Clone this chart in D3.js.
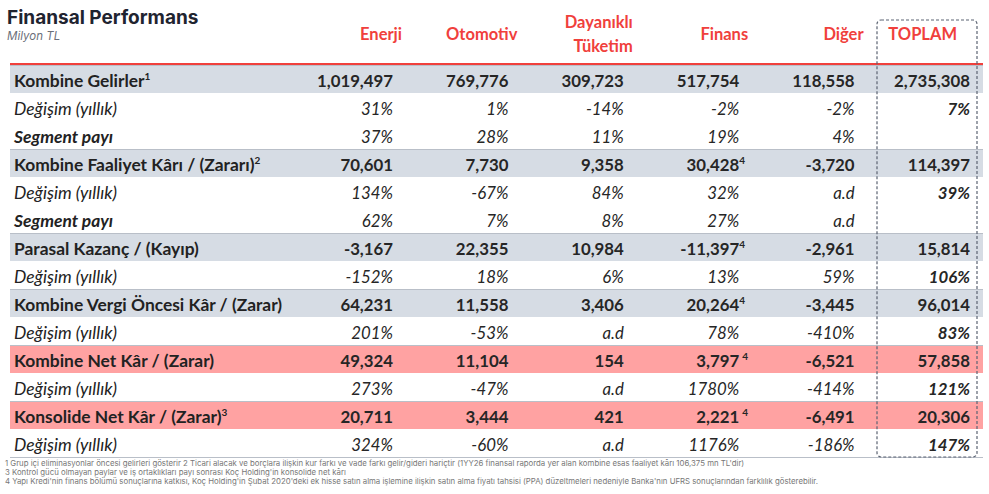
<!DOCTYPE html>
<html>
<meta charset="utf-8">
<script src="https://cdn.jsdelivr.net/npm/d3@7/dist/d3.min.js"></script>
<style>
body{margin:0;background:#fff;}
</style>
<body>
<script>
// kolonlar
var categories = ["Enerji", "Otomotiv", "Dayanıklı Tüketim", "Finans", "Diğer", "TOPLAM"];

// satir verileri (Milyon TL / %)
var gelirler        = [1019497, 769776, 309723, 517754, 118558, 2735308];
var gelirlerDeg     = [31, 1, -14, -2, -2, 7];
var gelirlerPay     = [37, 28, 11, 19, 4, null];
var faaliyet        = [70601, 7730, 9358, 30428, -3720, 114397];
var faaliyetDeg     = [134, -67, 84, 32, "a.d", 39];
var faaliyetPay     = [62, 7, 8, 27, "a.d", null];
var parasal         = [-3167, 22355, 10984, -11397, -2961, 15814];
var parasalDeg      = [-152, 18, 6, 13, 59, 106];
var vergiOncesi     = [64231, 11558, 3406, 20264, -3445, 96014];
var vergiOncesiDeg  = [201, -53, "a.d", 78, -410, 83];
var netKar          = [49324, 11104, 154, 3797, -6521, 57858];
var netKarDeg       = [273, -47, "a.d", 1780, -414, 121];
var konsolide       = [20711, 3444, 421, 2221, -6491, 20306];
var konsolideDeg    = [324, -60, "a.d", 1176, -186, 147];

var footnotes = [
	"1 Grup içi eliminasyonlar öncesi gelirleri gösterir 2 Ticari alacak ve borçlara ilişkin kur farkı ve vade farkı gelir/gideri hariçtir (1YY26 finansal raporda yer alan kombine esas faaliyet kârı 106,375  mn TL'dir)",
	"3 Kontrol gücü olmayan paylar ve iş ortaklıkları payı sonrası Koç Holding'in konsolide net kârı",
	"4 Yapı Kredi'nin finans bölümü sonuçlarına katkısı, Koç Holding'in Şubat 2020'deki ek hisse satın alma işlemine ilişkin satın alma fiyatı tahsisi (PPA) düzeltmeleri nedeniyle Banka'nın UFRS sonuçlarından farklılık gösterebilir."
];

var rows = [
	{label:"Kombine Gelirler", sup:"1", kind:"main", band:"gray", values:gelirler},
	{label:"Değişim (yıllık)", kind:"chg", values:gelirlerDeg},
	{label:"Segment payı", kind:"share", values:gelirlerPay},
	{label:"Kombine Faaliyet Kârı / (Zararı)", sup:"2", kind:"main", band:"gray", values:faaliyet, fin:"4"},
	{label:"Değişim (yıllık)", kind:"chg", values:faaliyetDeg},
	{label:"Segment payı", kind:"share", values:faaliyetPay},
	{label:"Parasal Kazanç / (Kayıp)", kind:"main", band:"gray", values:parasal, fin:"4"},
	{label:"Değişim (yıllık)", kind:"chg", values:parasalDeg},
	{label:"Kombine Vergi Öncesi Kâr / (Zarar)", kind:"main", band:"gray", values:vergiOncesi, fin:"4"},
	{label:"Değişim (yıllık)", kind:"chg", values:vergiOncesiDeg},
	{label:"Kombine Net Kâr / (Zarar)", kind:"main", band:"pink", values:netKar, fin:" 4"},
	{label:"Değişim (yıllık)", kind:"chg", values:netKarDeg},
	{label:"Konsolide Net Kâr / (Zarar)", sup:"3", kind:"main", band:"pink", values:konsolide, fin:" 4"},
	{label:"Değişim (yıllık)", kind:"chg", values:konsolideDeg}
];

var W = 989, H = 494;
var FONT = "Lato, 'Liberation Sans', sans-serif";
var bandColor = {gray:"#d6dce4", pink:"#ffa2a2"};
var fmtNum = d3.formatLocale({decimal:".", thousands:",", grouping:[3], currency:["", ""], minus:"-"}).format(",");

var svg = d3.select("body").append("svg").attr("width", W).attr("height", H);

var x = d3.scalePoint().domain(categories).range([393, 970]);
var y = d3.scaleBand().domain(d3.range(rows.length)).range([65, 457]);

// baslik
svg.append("text").attr("x", 7).attr("y", 24)
	.style("font-family", "Inter, sans-serif").style("font-weight", 700).style("font-size", "19px")
	.attr("fill", "#1f2430").text("Finansal Performans");
svg.append("text").attr("x", 7).attr("y", 40)
	.style("font-family", "Inter, sans-serif").style("font-style", "italic").style("font-size", "11.5px")
	.attr("fill", "#6b6f7a").text("Milyon TL");

// kolon basliklari
var head = svg.append("g").selectAll("text").data(categories).enter().append("text")
	.attr("text-anchor", "end")
	.attr("x", function(d, i){ return i == categories.length - 1 ? x(d) - 13 : x(d) + 9; })
	.attr("y", function(d){ return d.indexOf(" ") > 0 ? 28 : 40; })
	.style("font-family", FONT).style("font-weight", 700).style("font-size", "16.5px")
	.attr("fill", "#f0403c");
head.each(function(d){
	var parts = d.split(" ");
	var t = d3.select(this);
	parts.forEach(function(p, k){
		t.append("tspan").attr("x", t.attr("x")).attr("dy", k == 0 ? 0 : 24).text(p);
	});
});

// bantlar
var g = svg.append("g");
rows.forEach(function(r, i){
	if(r.band){
		g.append("rect").attr("x", 10).attr("y", y(i)).attr("width", 973).attr("height", y.bandwidth())
			.attr("fill", bandColor[r.band]);
		g.append("line").attr("x1", 10).attr("x2", 983).attr("y1", y(i) + 0.5).attr("y2", y(i) + 0.5)
			.attr("stroke", "#b9bfc8").attr("stroke-width", 1);
	}
});
g.append("line").attr("x1", 10).attr("x2", 983).attr("y1", 457.5).attr("y2", 457.5)
	.attr("stroke", "#b9bfc8").attr("stroke-width", 1);
g.append("line").attr("x1", 10).attr("x2", 983).attr("y1", 64).attr("y2", 64)
	.attr("stroke", "#f0403c").attr("stroke-width", 2.2);

// satirlar
var rowG = svg.append("g").selectAll("g").data(rows).enter().append("g")
	.attr("transform", function(d, i){ return "translate(0," + (y(i) + 22) + ")"; });

var lab = rowG.append("text").attr("x", 14).attr("y", 0)
	.style("font-family", FONT).style("font-size", "17.4px")
	.style("font-weight", function(d){ return d.kind == "chg" ? 400 : 700; })
	.style("font-style", function(d){ return d.kind == "main" ? "normal" : "italic"; })
	.attr("fill", "#222");
lab.append("tspan").text(function(d){ return d.label; });
lab.filter(function(d){ return d.sup; }).append("tspan")
	.attr("dy", -7).style("font-size", "10px").text(function(d){ return d.sup; });

rowG.each(function(r){
	var cells = d3.select(this).selectAll("text.v").data(r.values).enter().append("text")
		.attr("class", "v")
		.attr("x", function(d, i){ return x(categories[i]); })
		.attr("text-anchor", "end")
		.style("font-family", FONT).style("font-size", "16.8px")
		.style("font-weight", function(d, i){ return (r.kind == "main" || (r.kind == "chg" && i == 5)) ? 700 : 400; })
		.style("font-style", function(d){ return r.kind == "main" ? "normal" : "italic"; })
		.attr("fill", "#262626")
		.text(function(d){
			if(d == null) return "";
			if(typeof d == "string") return d;
			return r.kind == "main" ? fmtNum(d) : d + "%";
		});
	if(r.fin){
		d3.select(this).append("text")
			.attr("x", x(categories[3]) + (r.fin.charAt(0) == " " ? 3 : 0)).attr("y", -7)
			.style("font-family", FONT).style("font-weight", 700).style("font-size", "10px")
			.attr("fill", "#262626").text(r.fin.trim());
	}
});

// TOPLAM kutusu
svg.append("rect").attr("x", 877).attr("y", 20).attr("width", 100).attr("height", 437)
	.attr("rx", 4).attr("fill", "none").attr("stroke", "#5b6372")
	.attr("stroke-width", 1.2).attr("stroke-dasharray", "3,2");

// dipnotlar
svg.append("g").selectAll("text").data(footnotes).enter().append("text")
	.attr("x", 5).attr("y", function(d, i){ return 466 + i * 9; })
	.style("font-family", "Inter, sans-serif").style("font-size", "7.8px")
	.attr("fill", "#777").text(function(d){ return d; });
</script>
</body>
</html>
